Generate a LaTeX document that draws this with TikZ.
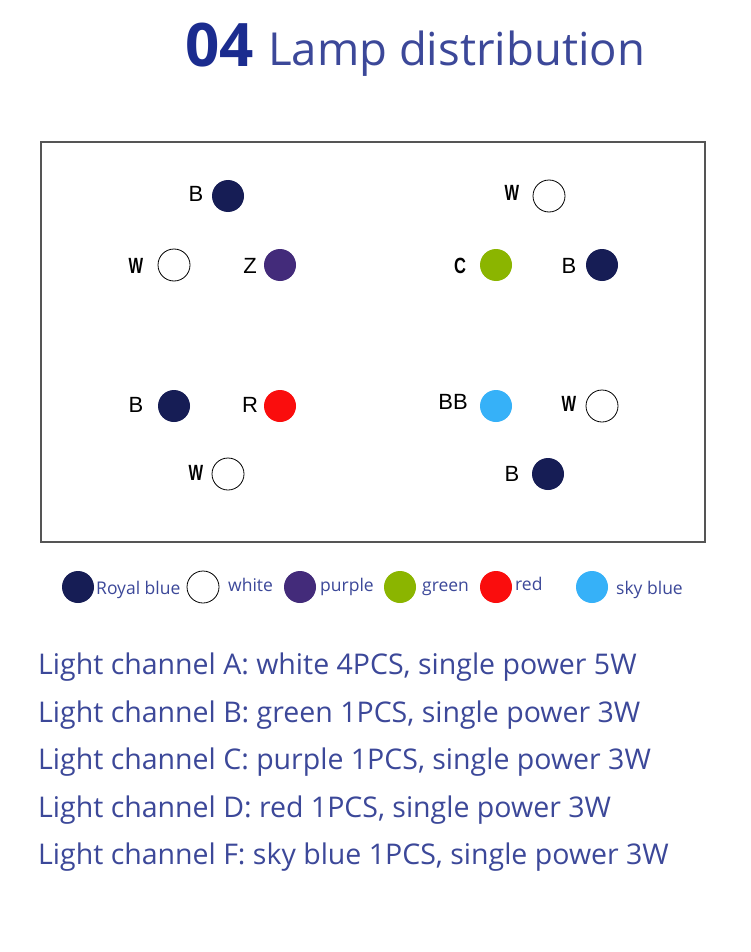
\documentclass[tikz,border=0pt]{standalone}
\usepackage{fontspec}
\setmainfont{Open Sans}
\newfontfamily\labelfont{Liberation Sans}
\usepackage{xcolor}
\definecolor{titleblue}{HTML}{1B2C8F}
\definecolor{textblue}{HTML}{3C4899}
\definecolor{royalblue}{HTML}{161D55}
\definecolor{lamppurple}{HTML}{432B7A}
\definecolor{lampgreen}{HTML}{8BB500}
\definecolor{lampred}{HTML}{FA0D0D}
\definecolor{skyblue}{HTML}{36B1F8}
\definecolor{boxgray}{HTML}{555555}
\tikzset{
  lamp/.style={circle, inner sep=0pt, minimum size=32pt},
  whitelamp/.style={lamp, draw=black, line width=0.8pt, fill=white},
  lamplabel/.style={font=\labelfont\fontsize{22}{22}\selectfont, text=black},
  legendtext/.style={font=\fontsize{17.5}{17.5}\selectfont, text=textblue, anchor=base west, inner sep=0pt},
  channeltext/.style={font=\fontsize{28.5}{28.5}\selectfont, text=textblue, anchor=base west, inner sep=0pt}
}

\begin{document}
\begin{tikzpicture}[x=1pt, y=-1pt]
			\useasboundingbox [fill=white] (0,0) rectangle (750,952);
			% title
			\node (num) [anchor=base east, inner sep=0pt, text=titleblue, font=\bfseries\fontsize{60}{60}\selectfont] at (254,67) {04};
			\node (title) [anchor=base west, inner sep=0pt, text=textblue, font=\fontsize{45.5}{45.5}\selectfont] at (268,66) {Lamp distribution};
			% board
			\draw [boxgray, line width=2pt] (41,142) rectangle (705,542);
			% upper left group
			\node (ulb) [lamp, fill=royalblue] at (228,196) {};
			\node (ulw) [whitelamp] at (174,265) {};
			\node (ulz) [lamp, fill=lamppurple] at (280,265) {};
			\node [lamplabel] at (196,194) {B};
			\node [lamplabel] at (136,266) {\scalebox{0.7}[1]{\bfseries W}};
			\node [lamplabel] at (250,266) {Z};
			% upper right group
			\node (urw) [whitelamp] at (549,196) {};
			\node (urc) [lamp, fill=lampgreen] at (496,265) {};
			\node (urb) [lamp, fill=royalblue] at (602,265) {};
			\node [lamplabel] at (512,193) {\scalebox{0.7}[1]{\bfseries W}};
			\node [lamplabel] at (460,266) {\scalebox{0.75}[1]{\bfseries C}};
			\node [lamplabel] at (569,266) {B};
			% lower left group
			\node (llb) [lamp, fill=royalblue] at (174,406) {};
			\node (llr) [lamp, fill=lampred] at (280,406) {};
			\node (llw) [whitelamp] at (228,474) {};
			\node [lamplabel] at (136,405) {B};
			\node [lamplabel] at (250,405) {R};
			\node [lamplabel] at (196,473) {\scalebox{0.7}[1]{\bfseries W}};
			% lower right group
			\node (lrs) [lamp, fill=skyblue] at (496,406) {};
			\node (lrw) [whitelamp] at (602,406) {};
			\node (lrb) [lamp, fill=royalblue] at (548,474) {};
			\node [lamplabel] at (453,402) {BB};
			\node [lamplabel] at (569,404) {\scalebox{0.7}[1]{\bfseries W}};
			\node [lamplabel] at (512,474) {B};
			% legend
			\node (keyb) [lamp, fill=royalblue] at (78,587) {};
			\node (keyw) [whitelamp] at (203,587) {};
			\node (keyz) [lamp, fill=lamppurple] at (300,587) {};
			\node (keyc) [lamp, fill=lampgreen] at (400,587) {};
			\node (keyr) [lamp, fill=lampred] at (496,587) {};
			\node (keys) [lamp, fill=skyblue] at (592,587) {};
			\node [legendtext] at (96,594) {Royal blue};
			\node [legendtext] at (228,591) {white};
			\node [legendtext] at (320,591) {purple};
			\node [legendtext] at (422,591) {green};
			\node [legendtext] at (515,590) {red};
			\node [legendtext] at (616,594) {sky blue};
			% channels
			\node (cha) [channeltext] at (38,674) {Light channel A: white 4PCS, single power 5W};
			\node (chb) [channeltext] at (38,722) {Light channel B: green 1PCS, single power 3W};
			\node (chc) [channeltext] at (38,769) {Light channel C: purple 1PCS, single power 3W};
			\node (chd) [channeltext] at (38,817) {Light channel D: red 1PCS, single power 3W};
			\node (chf) [channeltext] at (38,864) {Light channel F: sky blue 1PCS, single power 3W};
		\end{tikzpicture}
\end{document}
